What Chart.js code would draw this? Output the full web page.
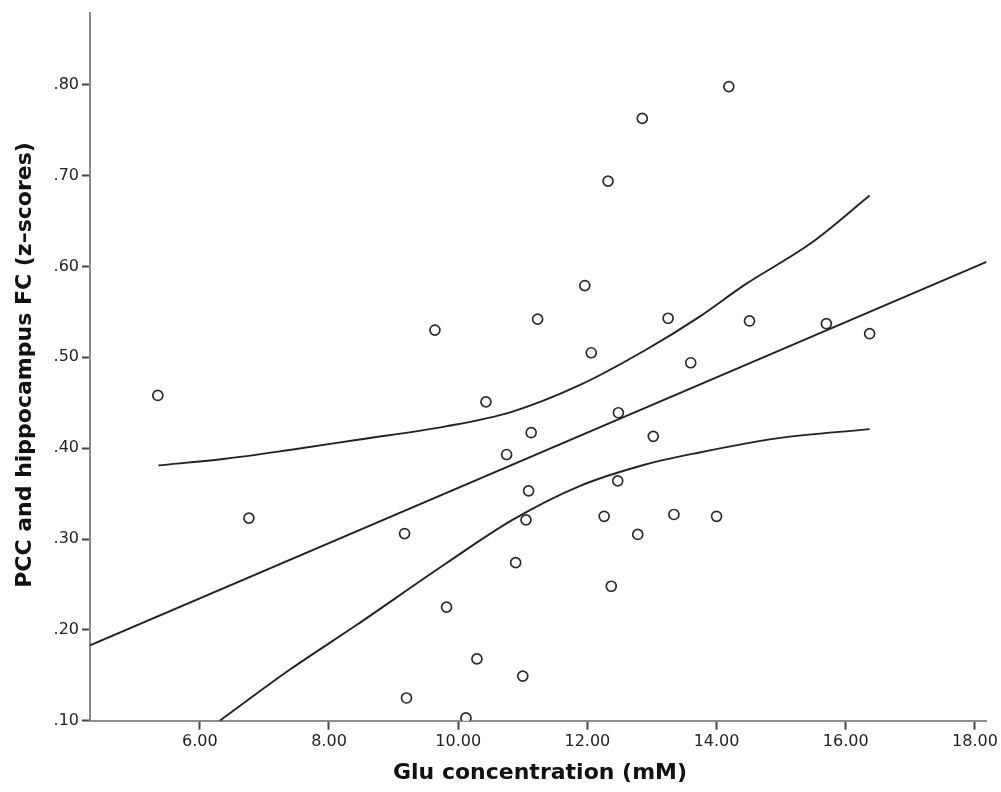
<!DOCTYPE html>
<html>
<head>
<meta charset="utf-8">
<title>Glu concentration vs PCC-hippocampus FC</title>
<script src="https://cdn.jsdelivr.net/npm/chart.js@4.4.1/dist/chart.umd.min.js"></script>
<style>
    html, body { margin: 0; padding: 0; background: #fff; }
    #wrap { width: 1001px; height: 792px; position: relative; }
</style>
</head>
<body>
<div id="wrap"><canvas id="scatter-chart" width="1001" height="792"></canvas></div>
<script>
const gluValues = [5.35, 6.76, 9.17, 9.20, 9.64, 9.82, 10.12, 10.29, 10.43, 10.75,
    10.89, 11.00, 11.05, 11.09, 11.13, 11.23, 11.96, 12.06, 12.26, 12.32,
    12.37, 12.47, 12.48, 12.78, 12.85, 13.02, 13.25, 13.34, 13.60, 14.00,
    14.19, 14.51, 15.70, 16.37];
const fcValues = [0.458, 0.323, 0.306, 0.125, 0.530, 0.225, 0.103, 0.168, 0.451, 0.393,
    0.274, 0.149, 0.321, 0.353, 0.417, 0.542, 0.579, 0.505, 0.325, 0.694,
    0.248, 0.364, 0.439, 0.305, 0.763, 0.413, 0.543, 0.327, 0.494, 0.325,
    0.798, 0.540, 0.537, 0.526];

// Fit line end points
const fitX = [4.30, 18.18];
const fitY = [0.183, 0.605];

// Confidence band curves
const upperX = [5.36, 6.36, 7.39, 8.42, 9.81, 10.83, 11.87, 12.90, 13.72, 14.44, 15.47, 16.37];
const upperY = [0.381, 0.388, 0.398, 0.409, 0.424, 0.440, 0.469, 0.508, 0.544, 0.580, 0.626, 0.678];
const lowerX = [6.31, 7.39, 8.42, 9.81, 10.84, 11.87, 12.90, 13.72, 14.96, 16.37];
const lowerY = [0.100, 0.156, 0.205, 0.273, 0.321, 0.358, 0.382, 0.395, 0.411, 0.421];

// Tick labels
const xTicks = [6, 8, 10, 12, 14, 16, 18];
const yTicks = [0.1, 0.2, 0.3, 0.4, 0.5, 0.6, 0.7, 0.8];

const X_TITLE = 'Glu concentration (mM)';
const Y_TITLE = 'PCC and hippocampus FC (z–scores)';

const INK = '#222222';
const AXIS_GREY = '#8c8c8c';

function toPoints(xs, ys) {
    return xs.map((x, i) => ({ x, y: ys[i] }));
}

// Axis titles drawn by hand so they sit where the original has them
const axisTitles = {
    id: 'axisTitles',
    afterDraw(chart) {
        const c = chart.ctx;
        c.save();
        c.fillStyle = '#111';
        c.font = "bold 22px 'DejaVu Sans', sans-serif";
        c.textAlign = 'center';
        c.textBaseline = 'middle';
        c.fillText(X_TITLE, 540, 773);
        c.translate(25, 365);
        c.rotate(-Math.PI / 2);
        c.fillText(Y_TITLE, 0, 0);
        c.restore();
    }
};

const lineStyle = {
    showLine: true,
    borderColor: INK,
    borderWidth: 1.9,
    pointRadius: 0,
    pointHoverRadius: 0,
    fill: false,
};

new Chart(document.getElementById('scatter-chart'), {
    type: 'scatter',
    data: {
        datasets: [
            {
                label: 'Subjects',
                data: toPoints(gluValues, fcValues),
                pointStyle: 'circle',
                pointRadius: 5,
                pointBorderWidth: 1.7,
                pointBorderColor: '#2a2a2a',
                pointBackgroundColor: '#ffffff',
                order: 0,
            },
            { label: 'Fit', data: toPoints(fitX, fitY), ...lineStyle, order: 1 },
            { label: 'Upper', data: toPoints(upperX, upperY), ...lineStyle, cubicInterpolationMode: 'monotone', order: 1 },
            { label: 'Lower', data: toPoints(lowerX, lowerY), ...lineStyle, cubicInterpolationMode: 'monotone', order: 1 },
        ]
    },
    options: {
        responsive: false,
        animation: false,
        devicePixelRatio: 1,
        layout: { padding: { left: 0, top: 13, right: 13, bottom: 0 } },
        plugins: {
            legend: { display: false },
            tooltip: { enabled: false },
        },
        scales: {
            x: {
                type: 'linear',
                min: 4.30,
                max: 18.18,
                afterBuildTicks: (scale) => { scale.ticks = xTicks.map(v => ({ value: v })); },
                afterFit: (scale) => { scale.height = 71.3; },
                ticks: {
                    color: INK,
                    font: { family: "'DejaVu Sans', sans-serif", size: 16 },
                    padding: 3,
                    maxRotation: 0,
                    callback: (v) => Number(v).toFixed(2),
                },
                grid: {
                    drawOnChartArea: false,
                    drawTicks: true,
                    tickLength: 9,
                    tickColor: '#444',
                    tickWidth: 2,
                },
                border: { display: true, color: AXIS_GREY, width: 2 },
            },
            y: {
                type: 'linear',
                min: 0.10,
                max: 0.879,
                afterBuildTicks: (scale) => { scale.ticks = yTicks.map(v => ({ value: v })); },
                afterFit: (scale) => { scale.width = 90; },
                ticks: {
                    color: INK,
                    font: { family: "'DejaVu Sans', sans-serif", size: 16 },
                    padding: 3,
                    callback: (v) => Number(v).toFixed(2).replace(/^0/, ''),
                },
                grid: {
                    drawOnChartArea: false,
                    drawTicks: true,
                    tickLength: 8,
                    tickColor: '#444',
                    tickWidth: 2,
                },
                border: { display: true, color: AXIS_GREY, width: 2 },
            }
        }
    },
    plugins: [axisTitles]
});
</script>
</body>
</html>
